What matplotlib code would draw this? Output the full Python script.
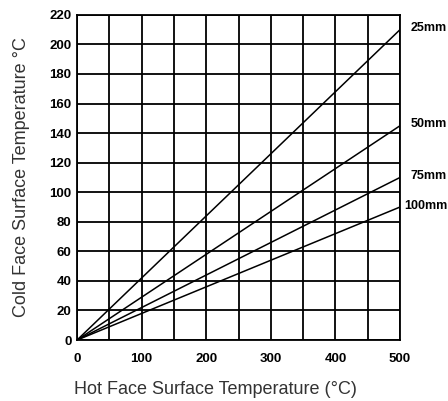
import numpy as np
import matplotlib.pyplot as plt
from matplotlib.transforms import blended_transform_factory

plt.rcParams['font.family'] = ['Liberation Sans', 'DejaVu Sans']

# thickness labels and the cold face temperature reached at 500 C hot face
thickness = ['25mm', '50mm', '75mm', '100mm']
hot_face = [0, 500]
cold_at_500 = [210, 145, 110, 90]

fig = plt.figure(figsize=(4.48, 4.01), dpi=100)
ax = fig.add_axes([0.172, 0.152, 0.721, 0.811])

tr = blended_transform_factory(fig.transFigure, ax.transData)
for name, end in zip(thickness, cold_at_500):
    ax.plot(hot_face, [0, end], color='black', linewidth=1.1)
    ax.text(0.998, end + 1, name, fontsize=9, fontweight='bold', va='center', ha='right',
            transform=tr)

ax.set_xlim(0, 500)
ax.set_ylim(0, 220)
ax.set_xticks(np.arange(0, 501, 50), minor=True)
ax.set_xticks(np.arange(0, 501, 100))
ax.set_yticks(np.arange(0, 221, 20))
ax.grid(True, which='both', color='black', linewidth=1.3)
ax.tick_params(which='both', length=0, labelsize=9.5)
ax.tick_params(axis='x', pad=9)
ax.tick_params(axis='y', pad=4)
for lbl in ax.get_xticklabels() + ax.get_yticklabels():
    lbl.set_fontweight('bold')
for s in ax.spines.values():
    s.set_linewidth(1.3)

ax.set_xlabel('Hot Face Surface Temperature (°C)', fontsize=13, color='#333333', labelpad=9)
ax.xaxis.set_label_coords(0.428, -0.125)
ax.set_ylabel('Cold Face Surface Temperature °C', fontsize=13, color='#333333', labelpad=14)

fig.savefig('out.png', dpi=100)
